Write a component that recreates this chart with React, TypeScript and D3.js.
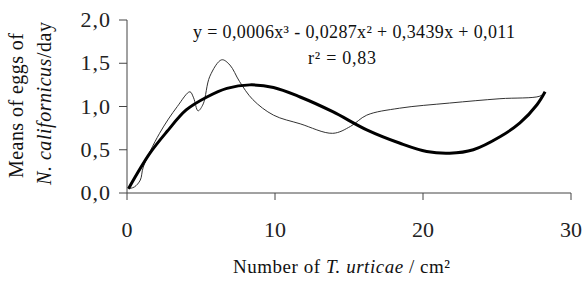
import React from "react";
import * as d3 from "d3";

const xTicks = [0, 10, 20, 30];
const yTicks = [0, 0.5, 1.0, 1.5, 2.0];

// observed means (thin line)
const obsX = [0.1, 0.5, 0.9, 1.1, 2.2, 3.4, 4.25, 4.5, 4.8, 5.15, 5.6, 6.4, 6.95, 7.6, 8.5, 9.9, 11.7, 13.9, 15.1, 16.2, 18.4, 21.8, 25.2, 27.9, 28.2];
const obsY = [0.05, 0.07, 0.15, 0.3, 0.69, 1.0, 1.17, 1.1, 0.95, 1.03, 1.35, 1.54, 1.48, 1.29, 1.08, 0.9, 0.8, 0.69, 0.77, 0.9, 0.98, 1.04, 1.09, 1.12, 1.16];

// fitted cubic (thick line)
const fitX = [0.1, 1.55, 2.7, 4.0, 5.4, 6.75, 8.3, 9.9, 11.7, 13.9, 16.2, 18.45, 20.25, 21.8, 23.4, 25.2, 26.55, 27.7, 28.25];
const fitY = [0.05, 0.46, 0.71, 0.96, 1.11, 1.21, 1.25, 1.22, 1.11, 0.94, 0.73, 0.575, 0.48, 0.46, 0.5, 0.65, 0.81, 1.02, 1.17];

const FONT = '"Liberation Serif", "DejaVu Serif", serif';

export default function App() {
  const x = d3.scaleLinear().domain([0, 30]).range([127, 571]);
  const y = d3.scaleLinear().domain([0, 2]).range([193, 20]);

  const line = d3
    .line<[number, number]>()
    .x((d) => x(d[0]))
    .y((d) => y(d[1]))
    .curve(d3.curveCatmullRom.alpha(0.5));

  const obs = obsX.map((v, i) => [v, obsY[i]] as [number, number]);
  const fit = fitX.map((v, i) => [v, fitY[i]] as [number, number]);

  const fmt = (v: number) => v.toFixed(1).replace(".", ",");

  return (
    <svg
      width={583}
      height={282}
      style={{ position: "absolute", left: 0, top: 0, background: "#fff", fontFamily: FONT }}
    >
      {/* axes */}
      <line x1={x(0)} x2={x(30)} y1={y(0)} y2={y(0)} stroke="#444" strokeWidth={1} />
      <line x1={x(0)} x2={x(0)} y1={y(0)} y2={y(2)} stroke="#444" strokeWidth={1} />
      {yTicks.map((t) => (
        <g key={"y" + t}>
          <line x1={x(0) - 8} x2={x(0)} y1={y(t)} y2={y(t)} stroke="#444" />
          <text x={111} y={y(t) + 7} textAnchor="end" fontSize={22} letterSpacing={1} fill="#222">
            {fmt(t)}
          </text>
        </g>
      ))}
      {xTicks.map((t) => (
        <g key={"x" + t}>
          <line x1={x(t)} x2={x(t)} y1={y(0)} y2={y(0) + 7} stroke="#444" />
          <text x={x(t)} y={237} textAnchor="middle" fontSize={22} fill="#222">
            {t}
          </text>
        </g>
      ))}

      {/* series */}
      <path d={line(obs) || ""} fill="none" stroke="#333" strokeWidth={1} />
      <path d={line(fit) || ""} fill="none" stroke="#000" strokeWidth={3} />

      {/* equation */}
      <text x={193} y={38} fontSize={18} textLength={322} lengthAdjust="spacing" fill="#111">
        y = 0,0006x³ - 0,0287x² + 0,3439x + 0,011
      </text>
      <text x={308} y={64} fontSize={18} textLength={68} lengthAdjust="spacing" fill="#111">
        r² = 0,83
      </text>

      {/* axis titles */}
      <g transform="translate(23,105.5) rotate(-90)">
        <text textAnchor="middle" fontSize={20} textLength={145} lengthAdjust="spacing" fill="#111">
          Means of eggs of
        </text>
      </g>
      <g transform="translate(51,103.5) rotate(-90)">
        <text textAnchor="middle" fontSize={20} textLength={163} lengthAdjust="spacing" fill="#111">
          <tspan fontStyle="italic">N. californicus</tspan>/day
        </text>
      </g>
      <text x={233} y={273} fontSize={19} textLength={217} lengthAdjust="spacing" fill="#111">
        Number of <tspan fontStyle="italic">T. urticae</tspan> / cm²
      </text>
    </svg>
  );
}
